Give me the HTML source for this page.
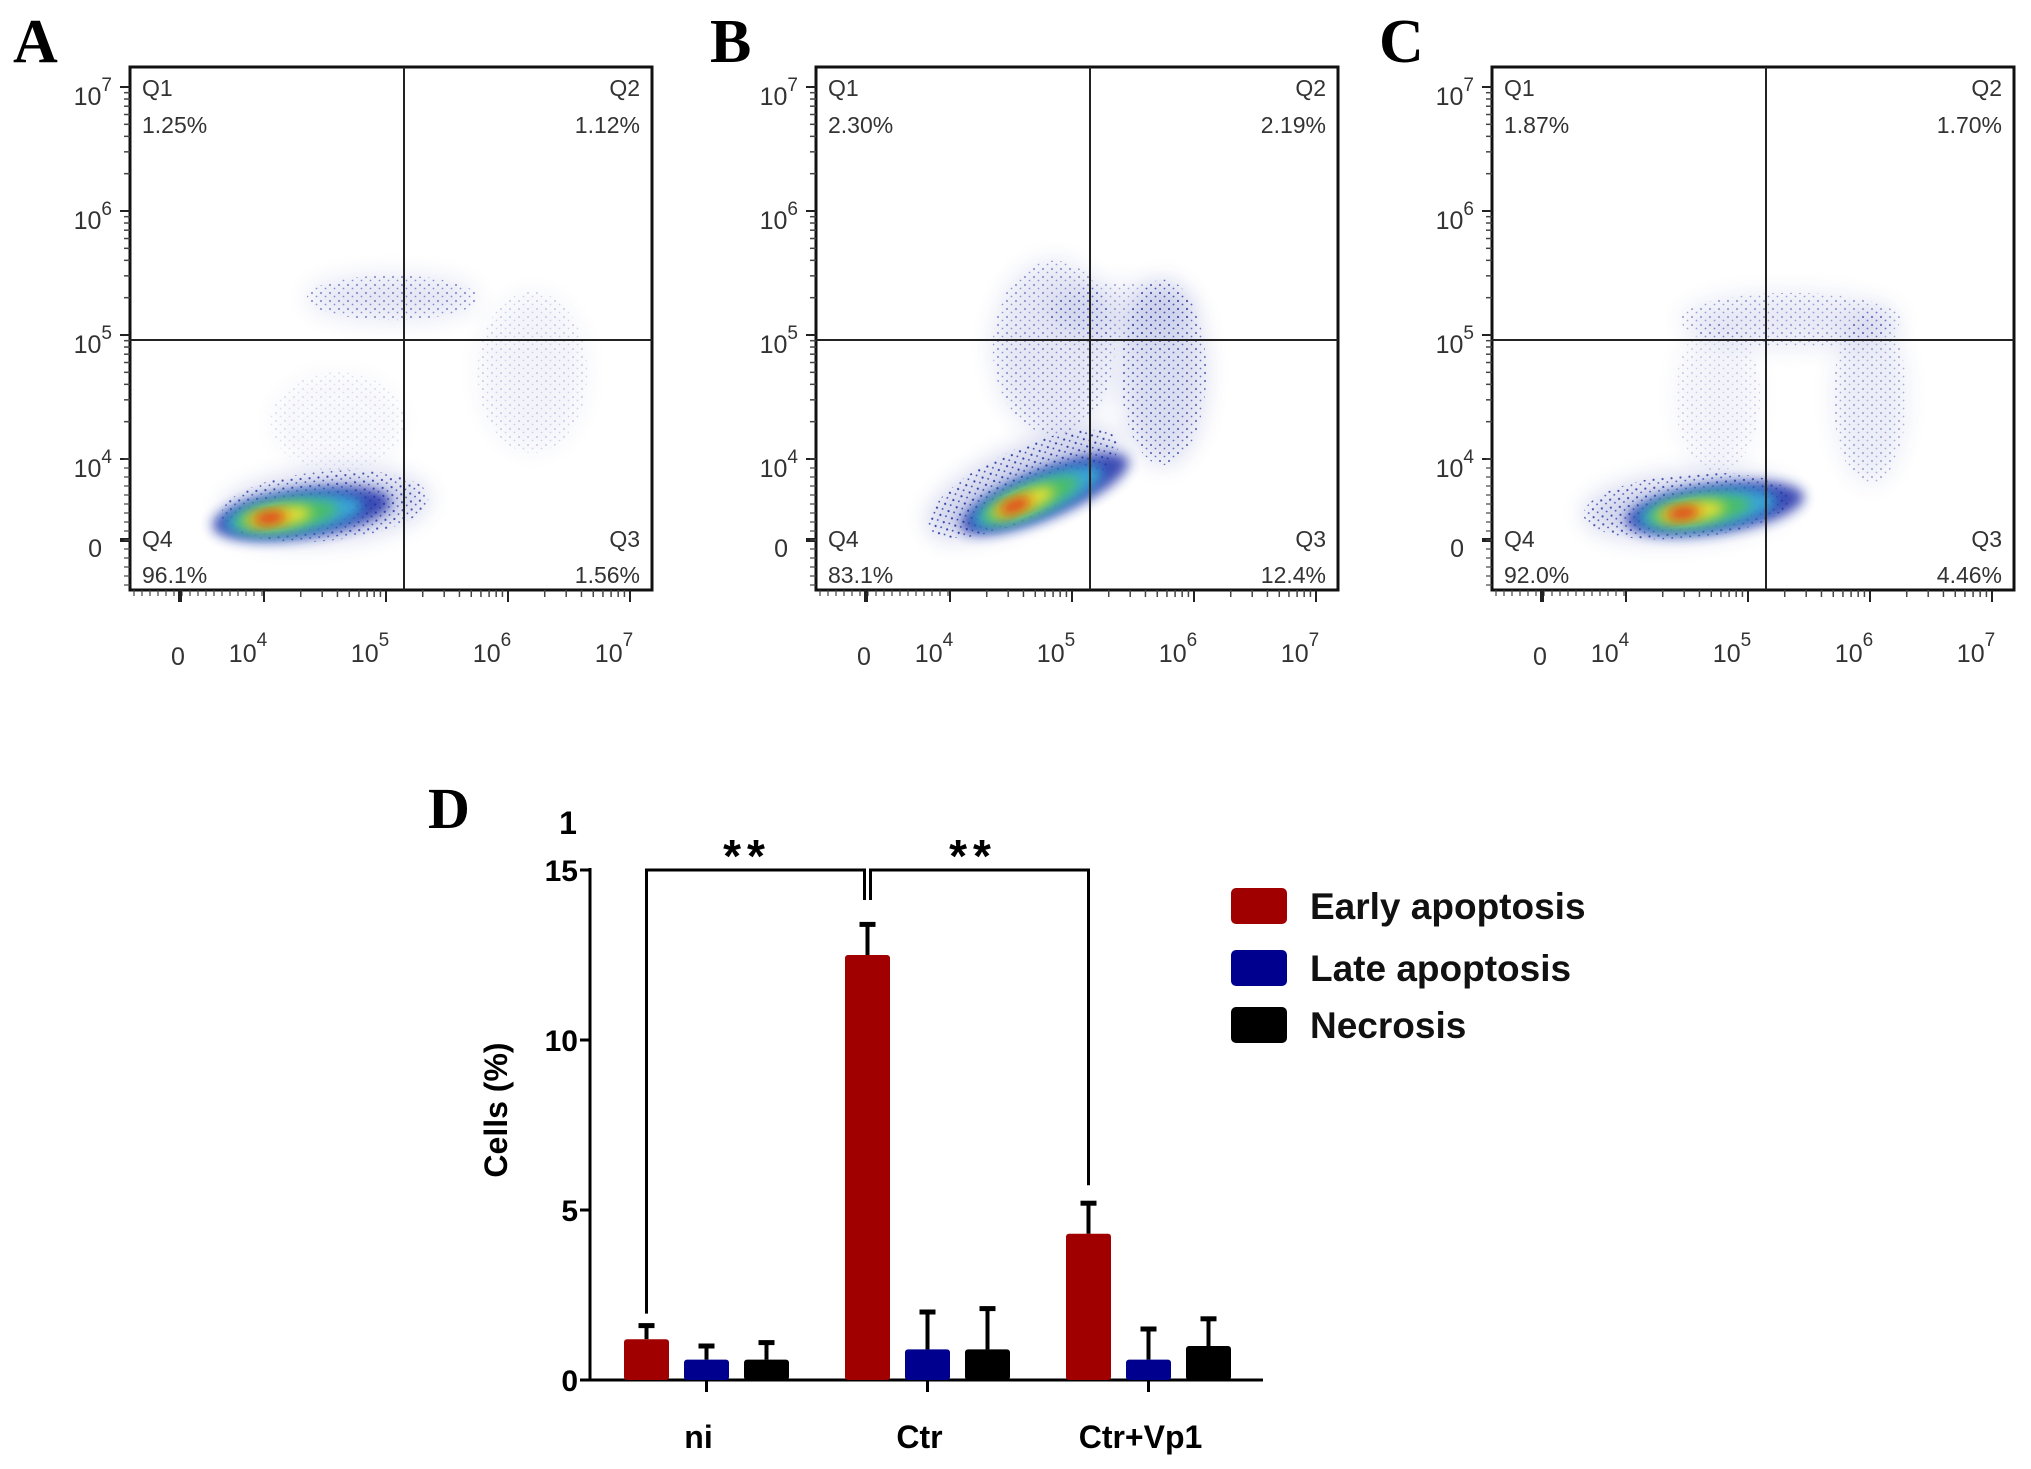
<!DOCTYPE html>
<html><head><meta charset="utf-8">
<style>
html,body{margin:0;padding:0;background:#fff;}
svg{display:block;font-family:"Liberation Sans",Arial,sans-serif;}
</style></head>
<body>
<svg id="fig" width="2031" height="1469" viewBox="0 0 2031 1469">
<defs>
<filter id="blur6" x="-50%" y="-50%" width="200%" height="200%"><feGaussianBlur stdDeviation="6"/></filter>
<filter id="blur12" x="-50%" y="-50%" width="200%" height="200%"><feGaussianBlur stdDeviation="12"/></filter>
<pattern id="dots" width="9" height="8" patternUnits="userSpaceOnUse"><circle cx="2" cy="2" r="1.1" fill="#1a2a9a"/><circle cx="6.5" cy="5.5" r="0.9" fill="#1a2a9a"/></pattern>
</defs>
<g id="flow"></g>
<g id="bar"></g>
</svg>
<script>
const NS='http://www.w3.org/2000/svg';
function mk(tag,attrs,parent,text){const e=document.createElementNS(NS,tag);for(const k in attrs)e.setAttribute(k,attrs[k]);if(text!==undefined)e.textContent=text;parent.appendChild(e);return e;}

// ---------- Flow panels data ----------
const panelLetters=['A','B','C'];
const panelLefts=[130,816,1492];
const q1Values=['1.25%','2.30%','1.87%'];
const q2Values=['1.12%','2.19%','1.70%'];
const q3Values=['1.56%','12.4%','4.46%'];
const q4Values=['96.1%','83.1%','92.0%'];
const yTickDecades=[7,6,5,4];
const xTickDecades=[4,5,6,7];
// clouds: [log x, log y, rx(dec), ry(dec), angle, opacity]
const cloudsA=[[4.5,3.62,0.85,0.28,-5,0.5],[5.05,5.3,0.7,0.18,0,0.3],[6.2,4.7,0.45,0.65,0,0.12],[4.6,4.3,0.55,0.4,0,0.08]];
const cloudsB=[[4.6,3.8,0.85,0.28,-25,0.55],[4.85,4.9,0.5,0.7,0,0.28],[5.75,4.7,0.35,0.75,0,0.4],[5.4,5.2,0.6,0.22,0,0.22]];
const cloudsC=[[4.5,3.62,0.85,0.26,-5,0.5],[5.35,5.12,0.9,0.22,0,0.25],[6.0,4.5,0.3,0.7,0,0.22],[4.75,4.5,0.35,0.6,0,0.12]];
const coresA=[3.98,3.56];
const coresB=[4.45,3.72];
const coresC=[4.4,3.6];
const allClouds=[cloudsA,cloudsB,cloudsC];
const allCores=[coresA,coresB,coresC];

const top0=67, W=522, H=523, qx=274, qy=273;
function fx(d){return 134+(d-4)*122;}
function fy(d){return 392-(d-4)*124;}
const flow=document.getElementById('flow');
panelLetters.forEach((L,i)=>{
  const x0=panelLefts[i];
  const g=mk('g',{transform:`translate(${x0},${top0})`},flow);
  
  
  const lt=mk('text',{x:[13,710,1379][i]-x0,y:-5,'font-family':'Liberation Serif,serif','font-weight':'bold','font-size':62},g,L);
  
  
  const cg=mk('g',{},g);
  
  
  allClouds[i].forEach(c=>{
    const cx=fx(c[0]),cy=fy(c[1]);
    mk('ellipse',{cx,cy,rx:c[2]*122,ry:c[3]*124,transform:`rotate(${c[4]} ${cx} ${cy})`,fill:'url(#dots)',opacity:Math.min(1,c[5]*1.6)},cg);
    mk('ellipse',{cx,cy,rx:c[2]*122,ry:c[3]*124,transform:`rotate(${c[4]} ${cx} ${cy})`,fill:'#2838a8',opacity:c[5]*0.4,filter:'url(#blur12)'},cg);
  });
  const core=allCores[i];
  const ccx=fx(core[0])+40, ccy=fy(core[1]);
  const ang=i==1?-22:-8;
  const layers=[[90,24,'#1c2fa8',0.85],[70,19,'#3ab0d8',0.9],[52,14,'#4cc060',0.95],[34,10,'#e8e030',1],[17,6,'#e02010',1]];
  layers.forEach((l,k)=>{
    mk('ellipse',{cx:ccx-(k*8),cy:ccy,rx:l[0],ry:l[1],fill:l[2],opacity:l[3],filter:'url(#blur6)',transform:`rotate(${ang} ${ccx} ${ccy})`},cg);
  });
  const box=mk('rect',{x:0,y:0,width:W,height:H,fill:'none',stroke:'#111','stroke-width':3},g);
  
  
  const vl=mk('line',{x1:qx,y1:0,x2:qx,y2:H,stroke:'#222','stroke-width':2},g);
  
  
  const hl=mk('line',{x1:0,y1:qy,x2:W,y2:qy,stroke:'#222','stroke-width':2},g);
  
  
  const qs=[['Q1',12,29,'start'],[q1Values[i],12,66,'start'],['Q2',510,29,'end'],[q2Values[i],510,66,'end'],
            ['Q4',12,480,'start'],[q4Values[i],12,516,'start'],['Q3',510,480,'end'],[q3Values[i],510,516,'end']];
  qs.forEach((q,k)=>{
    const t=mk('text',{x:q[1],y:q[2],'font-size':23,fill:'#333','text-anchor':q[3]},g,q[0]);
    
    
  });
  yTickDecades.forEach(d=>{
    mk('line',{x1:-10,y1:fy(d),x2:0,y2:fy(d),stroke:'#222','stroke-width':2},g);
    const t=mk('text',{x:-18,y:fy(d)+18,'font-size':25,fill:'#333','text-anchor':'end'},g);
    
    
    mk('tspan',{},t,'10');
    mk('tspan',{dy:-14,'font-size':19},t,String(d));
    for(let m=2;m<10;m++){const yy=fy(d-1+Math.log10(m));if(d-1>=4)mk('line',{x1:-6,y1:yy,x2:0,y2:yy,stroke:'#444','stroke-width':1.5},g);}
  });
  const y0=473;
  const y0t=mk('text',{x:-28,y:y0+17,'font-size':25,fill:'#333','text-anchor':'end'},g,'0');
  
  
  mk('line',{x1:-10,y1:y0,x2:0,y2:y0,stroke:'#222','stroke-width':4},g);
  for(let yy=fy(4);yy<H;yy+=9)mk('line',{x1:-6,y1:yy,x2:0,y2:yy,stroke:'#444','stroke-width':1.2},g);
  xTickDecades.forEach(d=>{
    mk('line',{x1:fx(d),y1:H,x2:fx(d),y2:H+12,stroke:'#222','stroke-width':2},g);
    const t=mk('text',{x:fx(d)-16,y:H+72,'font-size':25,fill:'#333','text-anchor':'middle'},g);
    
    
    mk('tspan',{},t,'10');
    mk('tspan',{dy:-16,'font-size':19},t,String(d));
    if(d<7)for(let m=2;m<10;m++){const xx=fx(d+Math.log10(m));mk('line',{x1:xx,y1:H,x2:xx,y2:H+7,stroke:'#444','stroke-width':1.5},g);}
  });
  for(let xx=4;xx<fx(4);xx+=8)mk('line',{x1:xx,y1:H,x2:xx,y2:H+6,stroke:'#444','stroke-width':1.2},g);
  mk('line',{x1:50,y1:H,x2:50,y2:H+12,stroke:'#222','stroke-width':4},g);
  const x0t=mk('text',{x:48,y:H+75,'font-size':25,fill:'#333','text-anchor':'middle'},g,'0');
  
  
});

// ---------- Bar chart data ----------
const categories=['ni','Ctr','Ctr+Vp1'];
const seriesNames=['Early apoptosis','Late apoptosis','Necrosis'];
const seriesColors=['#a00000','#00008e','#000000'];
const earlyVals=[1.2,12.5,4.3];
const lateVals=[0.6,0.9,0.6];
const necrosisVals=[0.6,0.9,1.0];
const earlyErr=[0.4,0.9,0.9];
const lateErr=[0.4,1.1,0.9];
const necrosisErr=[0.5,1.2,0.8];
const yTicks=[0,5,10,15];

const bx0=590, by0=1380, pxPerUnit=(1380-870)/15;
function by(v){return by0-v*pxPerUnit;}
const groupStart=624, groupStep=221, barW=45, barStep=60;
function bxs(ci,si){return groupStart+ci*groupStep+si*barStep;}
const bar=document.getElementById('bar');


const dL=mk('text',{x:428,y:828,'font-family':'Liberation Serif,serif','font-weight':'bold','font-size':58},bar,'D');


const one=mk('text',{x:568,y:834,'font-weight':'bold','font-size':32,'text-anchor':'middle'},bar,'1');


const ya=mk('line',{x1:bx0,y1:by(15)-2,x2:bx0,y2:by0,stroke:'#000','stroke-width':3},bar);


const xa=mk('line',{x1:bx0,y1:by0,x2:1263,y2:by0,stroke:'#000','stroke-width':3},bar);


yTicks.forEach(v=>{
  mk('line',{x1:bx0-10,y1:by(v),x2:bx0,y2:by(v),stroke:'#000','stroke-width':3},bar);
  const t=mk('text',{x:bx0-12,y:by(v)+11,'font-weight':'bold','font-size':30,'text-anchor':'end'},bar,String(v));
  
  
});
const yt=mk('text',{x:0,y:0,'font-weight':'bold','font-size':32,'text-anchor':'middle',transform:`translate(507 1110) rotate(-90)`},bar,'Cells (%)');


const allVals=[earlyVals,lateVals,necrosisVals];
const allErr=[earlyErr,lateErr,necrosisErr];
categories.forEach((c,ci)=>{
  const cx=bxs(ci,1)+barW/2;
  mk('line',{x1:cx,y1:by0,x2:cx,y2:by0+12,stroke:'#000','stroke-width':3},bar);
  const t=mk('text',{x:cx-8,y:1448,'font-weight':'bold','font-size':32,'text-anchor':'middle'},bar,c);
  
  
  allVals.forEach((vals,si)=>{
    const x=bxs(ci,si), v=vals[ci], e=allErr[si][ci];
    const ex=x+barW/2;
    const el=mk('line',{x1:ex,y1:by(v+e),x2:ex,y2:by(v),stroke:'#000','stroke-width':4},bar);
    
    
    mk('line',{x1:ex-8,y1:by(v+e),x2:ex+8,y2:by(v+e),stroke:'#000','stroke-width':5},bar);
    const r=mk('rect',{x,y:by(v),width:barW,height:by0-by(v),fill:seriesColors[si],rx:3},bar);
    
    
  });
});
const bl=bxs(0,0)+barW/2, bm=bxs(1,0)+barW/2, br=bxs(2,0)+barW/2, yb=by(15);
const br1=mk('path',{d:`M${bl} ${by(earlyVals[0]+earlyErr[0])-12} V${yb} H${bm-3} V${yb+30} M${bm+3} ${yb+30} V${yb} H${br} V${by(earlyVals[2]+earlyErr[2])-18}`,fill:'none',stroke:'#000','stroke-width':3},bar);


[[(bl+bm)/2-10,'**'],[(bm+br)/2-5,'**']].forEach(s=>{
  const t=mk('text',{x:s[0],y:yb+2,'font-weight':'bold','font-size':46,'text-anchor':'middle','letter-spacing':'6'},bar,s[1]);
  
  
});
const lys=[906,968,1025];
seriesNames.forEach((n,si)=>{
  const lg=mk('g',{},bar);
  
  
  mk('rect',{x:1231,y:lys[si]-18,width:56,height:36,rx:5,fill:seriesColors[si]},lg);
  mk('text',{x:1310,y:lys[si]+13,'font-weight':'bold','font-size':37,fill:'#111'},lg,n);
});
</script>
</body></html>
